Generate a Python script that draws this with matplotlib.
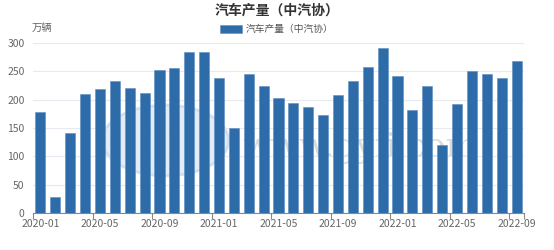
import numpy as np
import matplotlib
matplotlib.use("Agg")
import matplotlib.pyplot as plt
from matplotlib.patches import Ellipse

plt.rcParams['font.family'] = ['Noto Sans CJK SC', 'DejaVu Sans']

months = ['2020-01', '2020-02', '2020-03', '2020-04', '2020-05', '2020-06', '2020-07', '2020-08',
          '2020-09', '2020-10', '2020-11', '2020-12', '2021-01', '2021-02', '2021-03', '2021-04',
          '2021-05', '2021-06', '2021-07', '2021-08', '2021-09', '2021-10', '2021-11', '2021-12',
          '2022-01', '2022-02', '2022-03', '2022-04', '2022-05', '2022-06', '2022-07', '2022-08',
          '2022-09']
output = [177.8, 28.4, 141.0, 210.2, 218.7, 232.5, 219.9, 211.5,
          251.9, 255.0, 284.5, 284.0, 238.4, 150.3, 246.1, 223.4,
          203.6, 194.3, 186.3, 172.5, 207.7, 233.1, 258.5, 290.7,
          242.1, 181.4, 224.1, 120.5, 192.5, 249.9, 245.5, 238.7,
          267.5]
series_name = '汽车产量（中汽协）'
bar_color = '#2e6ca9'

fig = plt.figure(figsize=(5.54, 2.5), dpi=100)
ax = fig.add_axes([33 / 554, 37 / 250, 491 / 554, 170 / 250])

x = np.arange(len(months))
ax.bar(x, output, width=0.68, color=bar_color, edgecolor='#5b8fc4', linewidth=0.4, zorder=3,
       label=series_name)

# faint watermark
ax.add_patch(Ellipse((8.4, 128), 8.5, 125, facecolor='#d3e2f2', edgecolor='#bcd2ea',
                     linewidth=2, alpha=0.6, zorder=1))
ax.text(21.5, 115, 'www.gyii.com', fontsize=24, color='#d2d2d2', alpha=0.8,
        ha='center', va='center', zorder=1, family='DejaVu Serif')

ax.set_xlim(-0.5, len(months) - 0.5)
ax.set_ylim(0, 300)
ax.set_yticks(np.arange(0, 301, 50))
ax.set_xticks(x[::4])
ax.set_xticklabels(months[::4])
ax.set_xticks(np.append(x[::4] - 0.5, len(months) - 0.5), minor=True)
ax.tick_params(axis='x', which='major', length=0, pad=4, labelsize=7.5, labelcolor='#666666')
ax.tick_params(axis='x', which='minor', length=4, color='#888888', width=0.8)
ax.tick_params(axis='y', length=0, pad=6, labelsize=7.5, labelcolor='#666666')
ax.grid(axis='y', color='#e6e9ef', linewidth=0.8, zorder=0)

for s in ['top', 'right', 'left']:
    ax.spines[s].set_visible(False)
ax.spines['bottom'].set_color('#888888')
ax.spines['bottom'].set_linewidth(0.8)

fig.text(0.5, 1 - 11 / 250, series_name, ha='center', va='center', fontsize=10,
         fontweight='bold', color='#333333')
fig.text(42 / 554, 1 - 28 / 250, '万辆', ha='center', va='center', fontsize=7.5, color='#666666')

leg = fig.legend(loc='center', bbox_to_anchor=(0.5, 1 - 29 / 250), frameon=False,
                 fontsize=7, handlelength=2.2, handleheight=0.9, handletextpad=0.4)
for t in leg.get_texts():
    t.set_color('#555555')

fig.savefig('out.png', dpi=100)
